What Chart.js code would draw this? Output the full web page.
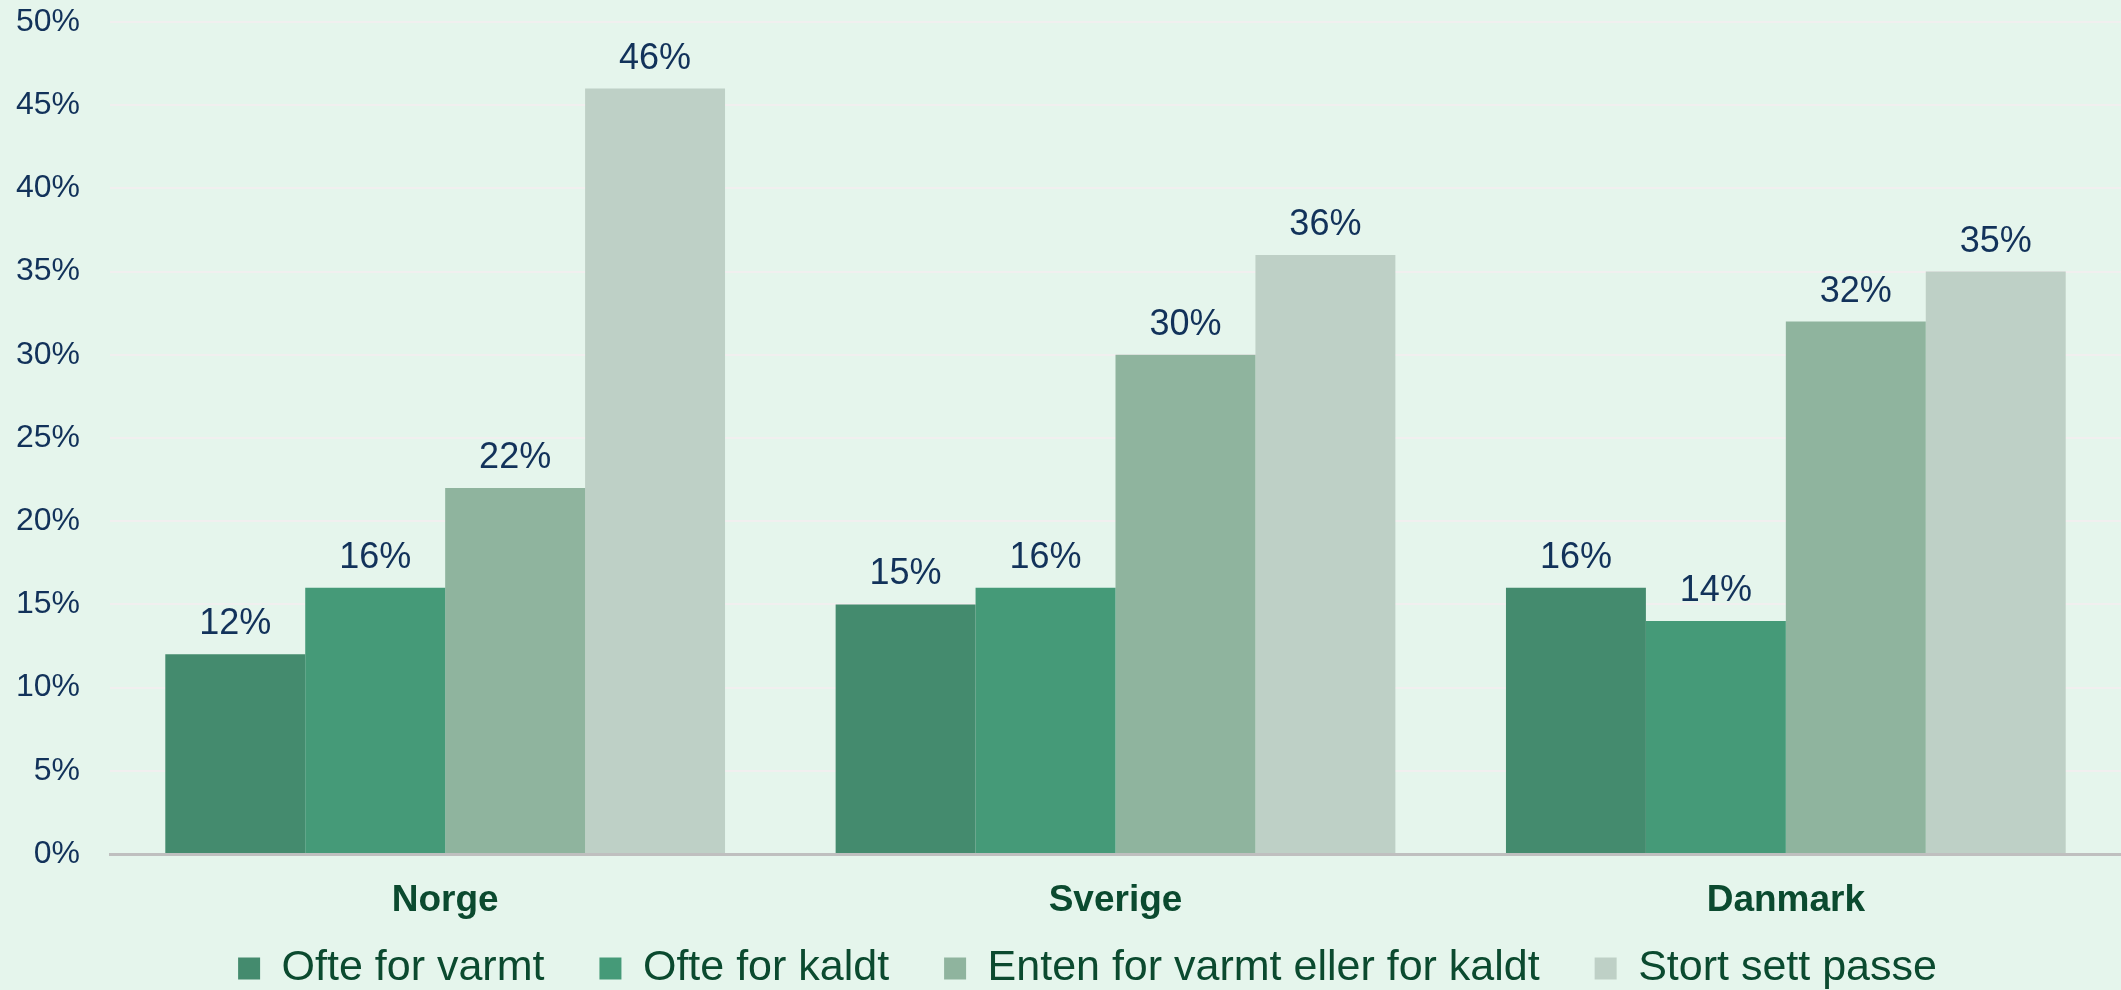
<!DOCTYPE html>
<html>
<head>
<meta charset="utf-8">
<script src="https://cdn.jsdelivr.net/npm/chart.js@4.4.0/dist/chart.umd.min.js"></script>
<style>
  html, body { margin: 0; padding: 0; background: #e5f5ec; }
  canvas { display: block; }
</style>
</head>
<body>
<canvas id="c" width="2121" height="990"></canvas>
<script>
const categories = ["Norge", "Sverige", "Danmark"];
const seriesNames = ["Ofte for varmt", "Ofte for kaldt", "Enten for varmt eller for kaldt", "Stort sett passe"];
const ofteForVarmt = [12, 15, 16];
const ofteForKaldt = [16, 16, 14];
const entenEller = [22, 30, 32];
const stortSettPasse = [46, 36, 35];
const seriesColors = ["#448b6e", "#459a78", "#8fb49e", "#bed0c6"];
const yTicks = [0, 5, 10, 15, 20, 25, 30, 35, 40, 45, 50];

const FONT = '"Liberation Sans", Arial, sans-serif';
const NAVY = '#12325a';
const DKGREEN = '#0b4a2f';

const bgPlugin = {
  id: 'bg',
  beforeDraw(chart) {
    const ctx = chart.ctx;
    ctx.save();
    ctx.fillStyle = '#e5f5ec';
    ctx.fillRect(0, 0, chart.width, chart.height);
    ctx.restore();
  }
};

// move the legend row to its place in the reference (just below the x labels)
const legendShift = {
  id: 'legendShift',
  afterLayout(chart) {
    const lg = chart.legend;
    if (!lg) return;
    const dy = -32, dx = 27;
    lg.top += dy; lg.bottom += dy;
    lg.left += dx; lg.right += dx;
  }
};

const labelPlugin = {
  id: 'valueLabels',
  afterDatasetsDraw(chart) {
    const ctx = chart.ctx;
    ctx.save();
    ctx.font = '36px ' + FONT;
    ctx.fillStyle = NAVY;
    ctx.textAlign = 'center';
    ctx.textBaseline = 'alphabetic';
    chart.data.datasets.forEach((ds, i) => {
      const meta = chart.getDatasetMeta(i);
      meta.data.forEach((bar, j) => {
        ctx.fillText(ds.data[j] + '%', bar.x, bar.y - 20);
      });
    });
    ctx.restore();
  }
};

const seriesData = [ofteForVarmt, ofteForKaldt, entenEller, stortSettPasse];

new Chart(document.getElementById('c'), {
  type: 'bar',
  data: {
    labels: categories,
    datasets: seriesNames.map((name, i) => ({
      label: name,
      data: seriesData[i],
      backgroundColor: seriesColors[i],
      borderWidth: 0,
      categoryPercentage: 0.835,
      barPercentage: 1.0
    }))
  },
  options: {
    responsive: false,
    animation: false,
    devicePixelRatio: 1,
    layout: { padding: { left: 0, right: 0, top: 22, bottom: -42 } },
    plugins: {
      tooltip: { enabled: false },
      legend: {
        display: true,
        position: 'bottom',
        labels: {
          boxWidth: 22,
          boxHeight: 22,
          padding: 55,
          color: DKGREEN,
          font: { family: FONT, size: 43 }
        }
      }
    },
    scales: {
      x: {
        grid: { display: false, drawTicks: false },
        border: { display: true, color: '#bfbfbf', width: 3 },
        ticks: {
          color: DKGREEN,
          padding: 25,
          font: { family: FONT, size: 37, weight: 'bold' }
        },
        afterFit(scale) { scale.height = 70; }
      },
      y: {
        min: 0,
        max: 50,
        afterBuildTicks(scale) { scale.ticks = yTicks.map(v => ({ value: v })); },
        grid: { color: '#f1efef', lineWidth: 2, drawTicks: false },
        border: { display: false },
        ticks: {
          color: NAVY,
          padding: 30,
          font: { family: FONT, size: 32 },
          callback: v => v + '%'
        },
        afterFit(scale) {
          scale.width = 110;
          scale.paddingTop = 0;
          scale.paddingBottom = 0;
        }
      }
    }
  },
  plugins: [bgPlugin, legendShift, labelPlugin]
});
</script>
</body>
</html>
